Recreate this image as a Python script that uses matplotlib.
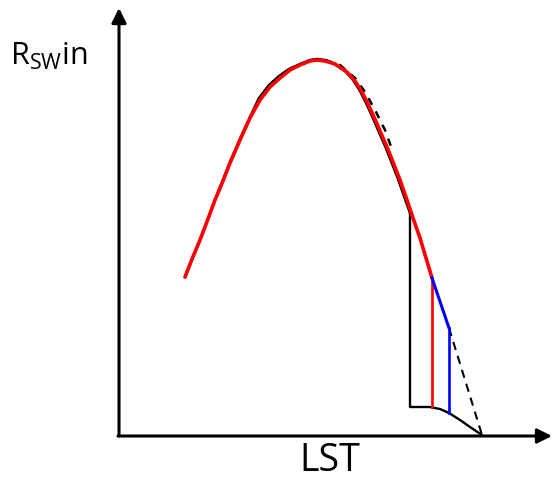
import matplotlib.pyplot as plt
import numpy as np

# schematic curve, units = LST / Rsw (arbitrary, origin at axes corner)
red_x = [66, 73, 81, 89, 96, 104, 111, 121, 131, 141, 151, 161, 171, 181, 191, 198,
         206, 216, 228, 236, 243, 249, 255, 261, 268, 274, 281, 288, 294, 301, 307, 313]
red_y = [159, 177, 196, 217, 236, 255, 273, 296, 318, 336, 349, 358, 366, 371, 375, 376,
         375, 372, 364, 355, 344, 332, 319, 305, 289, 274, 256, 236, 218, 198, 178, 158]

black_x = [66, 81, 96, 111, 121, 131, 140, 150, 160, 170, 181, 191, 198,
           206, 214, 226, 234, 241, 247, 253, 259, 266, 272, 279, 286, 291]
black_y = [159, 196, 236, 274, 297, 319, 338, 351, 360, 367, 372, 376, 377,
           376, 373, 365, 356, 345, 333, 320, 306, 290, 275, 257, 237, 223]

dash_top_x = [206, 221, 236, 246, 256, 266, 274]
dash_top_y = [376, 371, 358, 344, 326, 306, 284]

blue_x = [313, 330]
blue_y = [158, 108]

dash_end_x = [330, 363]
dash_end_y = [108, 1]

floor_x = [291, 291, 311, 321, 330, 341, 351, 363]
floor_y = [223, 29, 29, 27, 23, 16, 9, 1]

red_drop_x = [313, 313]
red_drop_y = [158, 29]
blue_drop_x = [330, 330]
blue_drop_y = [108, 23]

fig = plt.figure(figsize=(5.53, 4.79), dpi=100)
ax = fig.add_axes([0, 0, 1, 1])
ax.set_xlim(-119, 434)
ax.set_ylim(-43, 436)
ax.axis('off')

# axes arrows
arrow = dict(arrowstyle='-|>', lw=2.2, color='black', mutation_scale=22, shrinkA=0, shrinkB=0)
ax.annotate('', xy=(0, 428), xytext=(0, 0), arrowprops=arrow)
ax.annotate('', xy=(433, 0), xytext=(-1, 0), arrowprops=arrow)

ax.plot(black_x, black_y, color='black', lw=1.8, solid_joinstyle='round')
ax.plot(dash_top_x, dash_top_y, color='black', lw=1.8, ls=(0, (3, 3)))
ax.plot(floor_x, floor_y, color='black', lw=1.7)
ax.plot(dash_end_x, dash_end_y, color='black', lw=1.5, ls=(0, (4, 3)))
ax.plot(red_x, red_y, color='#ff0000', lw=2.6, solid_capstyle='round', solid_joinstyle='round')
ax.plot(red_drop_x, red_drop_y, color='#ff0000', lw=1.9)
ax.plot(blue_x, blue_y, color='#0000ff', lw=2.2)
ax.plot(blue_drop_x, blue_drop_y, color='#0000ff', lw=1.9)

ax.text(-109, 380, r'R$_{\mathregular{SW}}$in', fontsize=22, family='Open Sans',
        ha='left', va='center')
ax.text(211, -25, 'LST', fontsize=27, family='Open Sans', ha='center', va='center')

fig.savefig('out.png', dpi=100)
